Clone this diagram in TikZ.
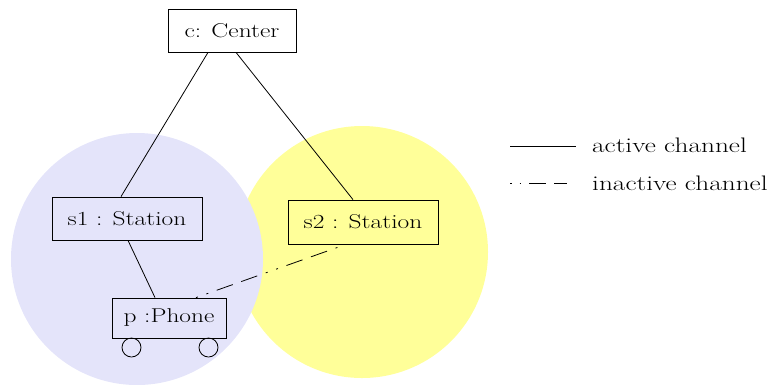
\documentclass[tikz,border=0pt]{standalone}
\usepackage{fontspec}
\setmainfont{Latin Modern Roman}
\usetikzlibrary{calc}
\definecolor{zoneA}{RGB}{228,228,250}
\definecolor{zoneB}{RGB}{255,255,153}
\newcommand{\wide}[1]{\scalebox{1.27}[1]{#1}}
\newcommand{\wider}[1]{\scalebox{1.3}[1]{#1}}
\tikzset{
  obj/.style={draw, line width=0.8pt, inner sep=0pt, font=\fontsize{20}{23}\selectfont},
  wheel/.style={draw, line width=0.8pt, circle, inner sep=0pt, minimum size=19pt},
  chan/.style={line width=0.8pt},
  idle/.style={line width=0.8pt, dash pattern=on 2pt off 9pt on 2pt off 9pt on 17pt off 9pt on 17pt off 9pt},
  lbl/.style={anchor=base west, inner sep=0pt, font=\fontsize{21}{24}\selectfont}
}
\begin{document}
\begin{tikzpicture}[x=1pt,y=-1pt]
\useasboundingbox (0,0) rectangle (768,384);
% coverage zones of the two stations
\fill[zoneB] (362,252) circle (126);
\fill[zoneA] (137,259) circle (126);
% objects
\node[obj, fill=white, minimum width=128pt, minimum height=43pt] (c) at (232,30.5) {\wide{c: Center}};
\node[obj, minimum width=150pt, minimum height=43pt] (s1) at (127,218.5) {\wide{s1 : Station}};
\node[obj, minimum width=150pt, minimum height=44pt] (s2) at (363,222) {\wide{s2 : Station}};
\node[obj, minimum width=114pt, minimum height=40pt] (p) at (169,318) {\wide{p :Phone}};
\node[wheel] (w1) at (131.5,347.5) {};
\node[wheel] (w2) at (208.5,347.5) {};
% channels
\draw[chan] ([xshift=-24pt]c.south) -- ([xshift=-6pt]s1.north);
\draw[chan] ([xshift=4pt]c.south) -- ([xshift=-10pt]s2.north);
\draw[chan] ([xshift=1pt]s1.south) -- ([xshift=-14pt]p.north);
\draw[idle] ([xshift=27pt]p.north) -- ([xshift=-17pt]s2.south);
% legend
\coordinate (la) at (510,146);
\coordinate (lb) at (576,146);
\coordinate (lc) at (510,183);
\coordinate (ld) at (577,183);
\draw[chan] (la) -- (lb);
\draw[line width=0.8pt, dash pattern=on 1.5pt off 8pt on 1.5pt off 8pt on 17pt off 8pt on 13pt off 100pt] (lc) -- (ld);
\node[lbl] (t1) at (592,152) {\wider{active channel}};
\node[lbl] (t2) at (592,190) {\wider{inactive channel}};
\end{tikzpicture}
\end{document}
